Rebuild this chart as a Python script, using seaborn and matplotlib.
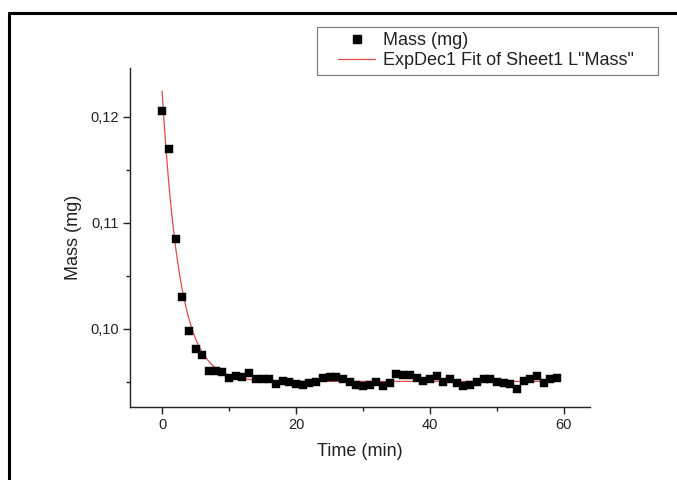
import numpy as np
import pandas as pd
import matplotlib
matplotlib.use("Agg")
import matplotlib.pyplot as plt
import seaborn as sns
from matplotlib.lines import Line2D
from matplotlib.patches import Rectangle
from matplotlib.ticker import MultipleLocator, FuncFormatter

# ---- data ----
time_min = list(range(60))
mass_mg = [
    0.1205, 0.1170, 0.1085, 0.1030, 0.0998, 0.0981, 0.0975, 0.0960, 0.0960, 0.0959,
    0.0953, 0.0955, 0.0954, 0.0958, 0.0952, 0.0952, 0.0952, 0.0948, 0.0951, 0.0950,
    0.0948, 0.0947, 0.0949, 0.0950, 0.0953, 0.0954, 0.0954, 0.0952, 0.0950, 0.0947,
    0.0946, 0.0947, 0.0950, 0.0946, 0.0949, 0.0957, 0.0956, 0.0956, 0.0953, 0.0951,
    0.0952, 0.0955, 0.0950, 0.0952, 0.0949, 0.0946, 0.0947, 0.0950, 0.0952, 0.0952,
    0.0950, 0.0949, 0.0948, 0.0943, 0.0951, 0.0952, 0.0955, 0.0949, 0.0952, 0.0953,
]
x_ticks = [0, 20, 40, 60]
y_ticks = [0.10, 0.11, 0.12]
series_label = "Mass (mg)"
fit_label = 'ExpDec1 Fit of Sheet1 L"Mass"'

df = pd.DataFrame({"Time (min)": time_min, "Mass (mg)": mass_mg})

# ExpDec1 fit  y = y0 + A*exp(-x/t1), least squares over a t1 grid
xs = np.asarray(time_min, float)
ys = np.asarray(mass_mg, float)
best = None
for t1 in np.linspace(0.3, 10, 3000):
    M = np.column_stack([np.ones_like(xs), np.exp(-xs / t1)])
    coef, res, *_ = np.linalg.lstsq(M, ys, rcond=None)
    r = np.sum((M @ coef - ys) ** 2)
    if best is None or r < best[0]:
        best = (r, t1, coef)
_, t1b, (y0b, Ab) = best
xf = np.linspace(0, 59, 400)
fit_df = pd.DataFrame({"x": xf, "y": y0b + Ab * np.exp(-xf / t1b)})

# ---- plotting ----
sns.set_theme(style="white")
plt.rcParams["font.family"] = ["Liberation Sans", "DejaVu Sans"]

fig = plt.figure(figsize=(6.77, 4.80), dpi=100)
ax = fig.add_axes([130 / 677, 1 - 407 / 480, 460 / 677, 339 / 480])

red = "#e84a4a"
sns.lineplot(data=fit_df, x="x", y="y", ax=ax, color=red, linewidth=0.9, zorder=3)
sns.scatterplot(data=df, x="Time (min)", y="Mass (mg)", ax=ax, marker="s",
                s=38, color="black", edgecolor="black", linewidth=0.3, zorder=4)

ax.set_xlim(-4.8, 63.9)
ax.set_ylim(0.0926, 0.1246)
ax.set_xticks(x_ticks)
ax.set_yticks(y_ticks)
ax.xaxis.set_minor_locator(MultipleLocator(10))
ax.yaxis.set_minor_locator(MultipleLocator(0.005))
ax.yaxis.set_major_formatter(FuncFormatter(lambda v, p: f"{v:.2f}".replace(".", ",")))
ax.xaxis.set_major_formatter(FuncFormatter(lambda v, p: f"{v:.0f}"))

for s in ["top", "right"]:
    ax.spines[s].set_visible(False)
for s in ["left", "bottom"]:
    ax.spines[s].set_color("#222222")
    ax.spines[s].set_linewidth(1.0)

ax.tick_params(which="major", direction="out", length=5, width=1, color="#222222",
               labelsize=10.5, labelcolor="#222222", bottom=True, left=True, pad=3)
ax.tick_params(which="minor", direction="out", length=3, width=1, color="#222222",
               bottom=True, left=True)
ax.set_xlabel("Time (min)", fontsize=13, color="#222222", labelpad=8)
ax.set_ylabel("Mass (mg)", fontsize=13, color="#222222", labelpad=6)

handles = [
    Line2D([], [], marker="s", linestyle="none", color="black", markersize=6),
    Line2D([], [], color=red, linewidth=0.9),
]
leg = fig.legend(handles, [series_label, fit_label], loc="upper left",
                 bbox_to_anchor=(338 / 677, 1 - 32 / 480), fontsize=13,
                 frameon=False, handlelength=2.05, handletextpad=0.45,
                 labelspacing=0.17, borderpad=0, borderaxespad=0)
for t in leg.get_texts():
    t.set_color("#222222")

# legend box as in the reference
fig.add_artist(Rectangle((317 / 677, 1 - 75 / 480), (658 - 317) / 677, 48 / 480,
                         transform=fig.transFigure, fill=False,
                         edgecolor="#777777", linewidth=0.8))

# outer frame (left and top edges visible in the reference)
fig.add_artist(Line2D([9 / 677, 9 / 677], [0, 1 - 13 / 480], transform=fig.transFigure,
                      color="black", linewidth=2.2))
fig.add_artist(Line2D([9 / 677, 1], [1 - 13 / 480, 1 - 13 / 480], transform=fig.transFigure,
                      color="black", linewidth=2.2))

fig.savefig("out.png", dpi=100)
